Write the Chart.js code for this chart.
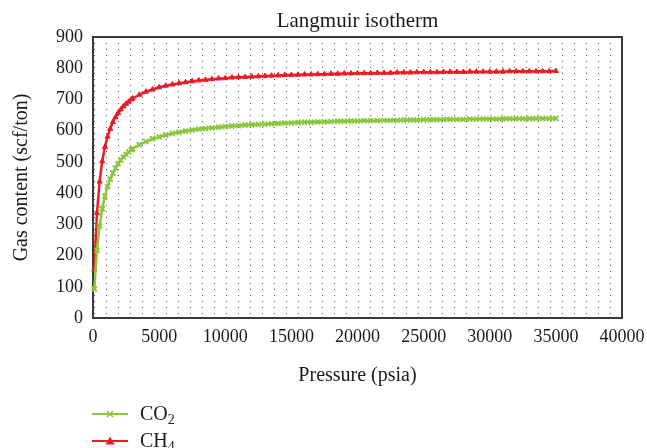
<!DOCTYPE html>
<html>
<head>
<meta charset="utf-8">
<script src="https://cdn.jsdelivr.net/npm/chart.js@4.4.1/dist/chart.umd.min.js"></script>
<style>
html, body { margin: 0; padding: 0; background: #fff; }
#wrap { position: relative; width: 647px; height: 448px; }
#chart { position: absolute; left: 0; top: 0; }
#legend { position: absolute; left: 92px; top: 400px; font: 20px 'Liberation Serif', serif; color: #1a1a1a; }
.row { display: flex; align-items: center; height: 27px; }
.row svg { margin-right: 12px; }
sub { font-size: 14px; vertical-align: -4px; line-height: 0; }
</style>
</head>
<body>
<div id="wrap">
	<canvas id="chart" width="647" height="448"></canvas>
	<div id="legend">
		<div class="row">
			<svg width="36" height="12"><line x1="0" y1="6" x2="36" y2="6" stroke="#8cc63f" stroke-width="2"/><path d="M15,3 L21,9 M21,3 L15,9" stroke="#8cc63f" stroke-width="1.5"/></svg>
			<span>CO<sub>2</sub></span>
		</div>
		<div class="row">
			<svg width="36" height="12"><line x1="0" y1="6" x2="36" y2="6" stroke="#ec1c24" stroke-width="2"/><polygon points="18,1.5 22.5,9.5 13.5,9.5" fill="#ec1c24"/></svg>
			<span>CH<sub>4</sub></span>
		</div>
	</div>
</div>
<script>
// pressure (psia) at each sample
const pressure = [
	100, 300, 500, 700, 900, 1100, 1300, 1500, 1700, 1900, 2100, 2300, 2500, 2700, 2900,
	3000, 3500, 4000, 4500, 5000, 5500, 6000, 6500, 7000, 7500,
	8000, 8500, 9000, 9500, 10000, 10500, 11000, 11500, 12000, 12500,
	13000, 13500, 14000, 14500, 15000, 15500, 16000, 16500, 17000, 17500,
	18000, 18500, 19000, 19500, 20000, 20500, 21000, 21500, 22000, 22500,
	23000, 23500, 24000, 24500, 25000, 25500, 26000, 26500, 27000, 27500,
	28000, 28500, 29000, 29500, 30000, 30500, 31000, 31500, 32000, 32500,
	33000, 33500, 34000, 34500, 35000
];
// gas content (scf/ton)
const co2 = [
	93, 217, 295, 350, 390, 421, 445, 464, 480, 494, 506, 516, 524, 532, 539,
	542, 555, 565, 574, 580, 586, 591, 595, 599, 602,
	605, 607, 609, 611, 613, 615, 616, 618, 619, 620,
	621, 622, 623, 624, 625, 626, 627, 627, 628, 628,
	629, 630, 630, 631, 631, 632, 632, 632, 633, 633,
	633, 634, 634, 634, 635, 635, 635, 636, 636, 636,
	636, 637, 637, 637, 637, 637, 638, 638, 638, 638,
	638, 639, 639, 639, 639
];
const ch4 = [
	155, 336, 437, 502, 548, 581, 606, 627, 643, 657, 668, 678, 686, 693, 700,
	703, 715, 725, 732, 739, 744, 748, 752, 755, 758,
	761, 763, 765, 767, 768, 770, 771, 772, 773, 774,
	775, 776, 777, 778, 778, 779, 780, 780, 781, 781,
	782, 782, 783, 783, 784, 784, 784, 785, 785, 785,
	786, 786, 786, 787, 787, 787, 787, 788, 788, 788,
	788, 789, 789, 789, 789, 789, 789, 790, 790, 790,
	790, 790, 790, 790, 791
];
const chartTitle = 'Langmuir isotherm';
const xTitle = 'Pressure (psia)';
const yTitle = 'Gas content (scf/ton)';

const serif = "'Liberation Serif', 'DejaVu Serif', serif";
const ink = '#1a1a1a';

const plotBox = {
	id: 'plotBox',
	beforeDatasetsDraw(chart) {
		const { ctx, chartArea: a } = chart;
		ctx.save();
		ctx.fillStyle = '#555';
		for (let x = a.left + 1; x < a.right - 1; x += 12) {
			for (let y = a.top + 6; y < a.bottom - 1; y += 6) {
				ctx.fillRect(x, y, 1, 1);
			}
		}
		ctx.strokeStyle = '#3a3a3a';
		ctx.lineWidth = 2;
		ctx.strokeRect(a.left, a.top, a.right - a.left, a.bottom - a.top);
		ctx.restore();
	},
	afterDraw(chart) {
		const { ctx, chartArea: a } = chart;
		ctx.save();
		ctx.font = '21px ' + serif;
		ctx.fillStyle = ink;
		ctx.textAlign = 'center';
		ctx.textBaseline = 'alphabetic';
		ctx.fillText(chartTitle, (a.left + a.right) / 2, 27);
		ctx.restore();
	}
};

new Chart('chart', {
	type: 'line',
	data: {
		datasets: [{
			label: 'CO2',
			data: pressure.map((p, i) => ({ x: p, y: co2[i] })),
			borderColor: '#8cc63f',
			backgroundColor: '#8cc63f',
			borderWidth: 2.5,
			pointStyle: 'crossRot',
			pointRadius: 3.5,
			pointBorderWidth: 2,
			clip: false
		}, {
			label: 'CH4',
			data: pressure.map((p, i) => ({ x: p, y: ch4[i] })),
			borderColor: '#ec1c24',
			backgroundColor: '#ec1c24',
			borderWidth: 2.5,
			pointStyle: 'triangle',
			pointRadius: 3,
			pointBorderWidth: 1,
			clip: false
		}]
	},
	options: {
		responsive: false,
		animation: false,
		layout: {
			padding: { left: 0, right: 25, top: 37, bottom: 60 }
		},
		plugins: {
			legend: { display: false },
			tooltip: { enabled: false }
		},
		scales: {
			x: {
				type: 'linear',
				min: 0,
				max: 40000,
				afterFit: scale => {
					scale.height = 70;
					scale.paddingLeft = 0;
					scale.paddingRight = 0;
				},
				grid: { display: false, drawTicks: false },
				border: { display: false },
				ticks: {
					stepSize: 5000,
					padding: 8,
					maxRotation: 0,
					color: ink,
					font: { family: serif, size: 18 },
					callback: value => String(value)
				},
				title: {
					display: true,
					text: xTitle,
					color: ink,
					padding: 0,
					font: { family: serif, size: 20 }
				}
			},
			y: {
				min: 0,
				max: 900,
				afterFit: scale => {
					scale.width = 93;
					scale.paddingTop = 0;
					scale.paddingBottom = 0;
				},
				grid: { display: false, drawTicks: false },
				border: { display: false },
				ticks: {
					stepSize: 100,
					padding: 10,
					color: ink,
					font: { family: serif, size: 18 }
				},
				title: {
					display: true,
					text: yTitle,
					color: ink,
					padding: { top: 10, bottom: 0 },
					font: { family: serif, size: 20 }
				}
			}
		}
	},
	plugins: [plotBox]
});
</script>
</body>
</html>
